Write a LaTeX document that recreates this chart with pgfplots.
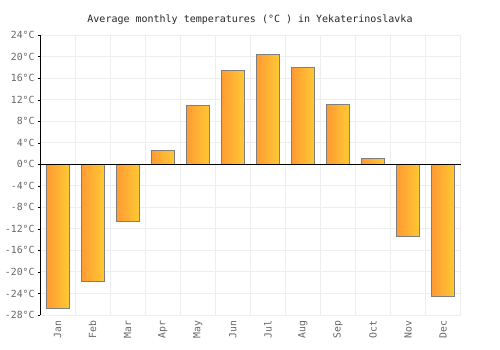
\documentclass[border=0pt]{standalone}
\usepackage{pgfplots}
\pgfplotsset{compat=1.18}
\usepackage{fontspec}
\setmainfont{DejaVu Sans Mono}
\definecolor{gridc}{HTML}{EEEEEE}
\definecolor{tickc}{HTML}{666666}
\definecolor{barl}{HTML}{FF9A33}
\definecolor{barr}{HTML}{FFC933}
\definecolor{bard}{HTML}{7F7F7F}
\pgfplotsset{mybar/.style={ybar, bar shift=0pt, bar width=0.66, draw=bard, line width=0.9bp, left color=barl, right color=barr}}
\begin{document}
\begin{tikzpicture}
\path[use as bounding box, fill=white] (0,0) rectangle (500bp,350bp);
\begin{axis}[
  at={(40bp,35bp)}, anchor=south west, scale only axis,
  width=420.7bp, height=280bp,
  xmin=-0.5, xmax=11.5, ymin=-28, ymax=24,
  clip=false,
  ytick={-28,-24,...,24},
  yticklabels={-28°C,-24°C,-20°C,-16°C,-12°C,-8°C,-4°C,0°C,4°C,8°C,12°C,16°C,20°C,24°C},
  xtick={0,...,11},
  xticklabels={Jan,Feb,Mar,Apr,May,Jun,Jul,Aug,Sep,Oct,Nov,Dec},
  x tick label style={rotate=90, anchor=east, font=\fontsize{9.8bp}{11bp}\selectfont, text=tickc},
  y tick label style={font=\fontsize{9.8bp}{11bp}\selectfont, text=tickc, xshift=0.5bp},
  minor xtick={-0.5,0.5,...,11.5},
  xminorgrids, ymajorgrids,
  grid style={draw=gridc, line width=0.9bp},
  minor grid style={draw=gridc, line width=0.9bp},
  axis line style={draw=gridc, line width=0.9bp},
  xtick style={draw=none}, minor tick length=0pt,
  ytick pos=left, ytick style={draw=black}, tick align=outside, major tick length=2.5bp,
]
\addplot[mybar] coordinates {(0,-26.7)};
\addplot[mybar] coordinates {(1,-21.7)};
\addplot[mybar] coordinates {(2,-10.6)};
\addplot[mybar] coordinates {(3,2.6)};
\addplot[mybar] coordinates {(4,11.0)};
\addplot[mybar] coordinates {(5,17.5)};
\addplot[mybar] coordinates {(6,20.4)};
\addplot[mybar] coordinates {(7,18.0)};
\addplot[mybar] coordinates {(8,11.1)};
\addplot[mybar] coordinates {(9,1.1)};
\addplot[mybar] coordinates {(10,-13.4)};
\addplot[mybar] coordinates {(11,-24.5)};
\draw[black, line width=0.9bp] (axis cs:-0.5,0) -- (axis cs:11.5,0);
\draw[black, line width=0.9bp] (axis cs:-0.5,-28) -- (axis cs:-0.5,24);
\end{axis}
\node[font=\fontsize{10bp}{12bp}\selectfont, text=black!85] at (250bp,330.5bp) {Average monthly temperatures (°C ) in Yekaterinoslavka};
\end{tikzpicture}
\end{document}
